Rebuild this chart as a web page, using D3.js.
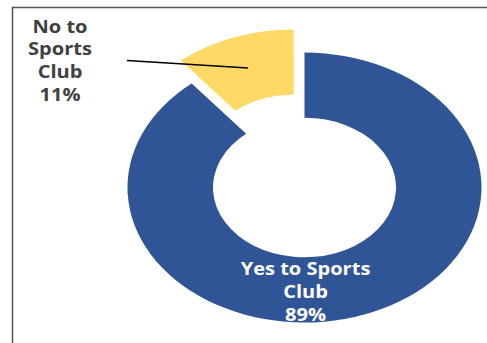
<!DOCTYPE html>
<html><head><meta charset="utf-8">
<script src="https://cdn.jsdelivr.net/npm/d3@7"></script>
<style>html,body{margin:0;padding:0;background:#fff;overflow:hidden}</style>
</head><body>
<svg id="chart" width="487" height="343"></svg>
<script>
const categories = ["Yes to Sports Club", "No to Sports Club"];
const labelLines = [["Yes to Sports", "Club", "89%"], ["No to", "Sports", "Club", "11%"]];
const values = [89, 11];
const colors = ["#2F5597", "#FFD966"];

const svg = d3.select("#chart");
// frame border (extends beyond right/bottom)
svg.append("path").attr("d", "M12.5,345 L12.5,7.5 L490,7.5")
  .attr("fill", "none").attr("stroke", "#555").attr("stroke-width", 1.5);

const cx = 304.5, cy = 187.5, R = 135, r = 69.8, sx = 177 / 135;
const pie = d3.pie().sort(null).value(d => d)(values);
const arc = d3.arc().innerRadius(r).outerRadius(R);
const explode = [0, 24.5];
const offset = (d, i) => {
  const a = (d.startAngle + d.endAngle) / 2;
  return [Math.sin(a) * explode[i], -Math.cos(a) * explode[i]];
};

const g = svg.append("g").attr("transform", `translate(${cx},${cy}) scale(${sx},1)`);
g.selectAll("path").data(pie).join("path")
  .attr("d", arc)
  .attr("fill", (d, i) => colors[i])
  .attr("transform", (d, i) => `translate(${offset(d, i)})`);

const font = "'Open Sans', sans-serif";
const tsx = 1.18;
function label(lines, x, y0, dy, fill) {
  const t = svg.append("text").attr("text-anchor", "middle")
    .attr("font-family", font).attr("font-weight", "bold").attr("font-size", 17)
    .attr("fill", fill).attr("transform", `translate(${x},${y0}) scale(${tsx},1)`);
  lines.forEach((s, k) => t.append("tspan").attr("x", 0).attr("y", k * dy).text(s));
}
label(labelLines[0], cx + 1, 275, 22.8, "#fff");
label(labelLines[1], 60, 32.5, 23, "#404040");

// leader line from label to yellow slice centroid
const c = arc.centroid(pie[1]);
const o = offset(pie[1], 1);
svg.append("line").attr("x1", 127).attr("y1", 60.5)
  .attr("x2", cx + (c[0] + o[0]) * sx).attr("y2", cy + c[1] + o[1])
  .attr("stroke", "#000").attr("stroke-width", 1.5);
</script>
</body></html>
